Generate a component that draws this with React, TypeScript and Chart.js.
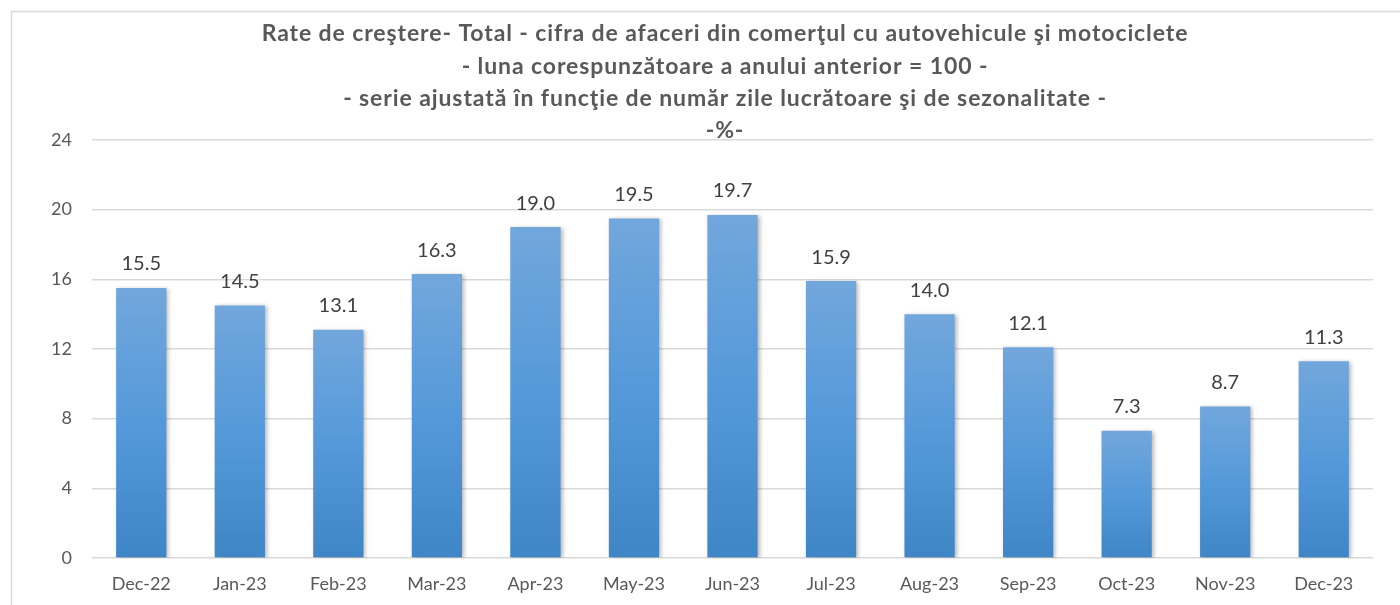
import React, { useEffect, useRef } from "react";
import { Chart, registerables } from "chart.js";

Chart.register(...registerables);

const categories = ["Dec-22", "Jan-23", "Feb-23", "Mar-23", "Apr-23", "May-23", "Jun-23", "Jul-23", "Aug-23", "Sep-23", "Oct-23", "Nov-23", "Dec-23"];
const values = [15.5, 14.5, 13.1, 16.3, 19.0, 19.5, 19.7, 15.9, 14.0, 12.1, 7.3, 8.7, 11.3];
const titleLines = [
  "Rate de creştere- Total - cifra de afaceri din comerţul cu autovehicule şi motociclete",
  "- luna corespunzătoare a anului anterior = 100 -",
  "- serie ajustată în funcţie de număr zile lucrătoare şi de sezonalitate -",
  "-%-",
];
const yMin = 0;
const yMax = 24;
const yStep = 4;

const FONT = "Lato, 'Open Sans', sans-serif";

export default function App() {
  const ref = useRef<HTMLCanvasElement | null>(null);
  useEffect(() => {
    if (!ref.current) return;
    const framePlugin = {
      id: "frame",
      beforeDraw(chart: any) {
        const ctx = chart.ctx;
        ctx.save();
        ctx.fillStyle = "#ffffff";
        ctx.fillRect(0, 0, chart.width, chart.height);
        ctx.strokeStyle = "#d9d9d9";
        ctx.lineWidth = 1.5;
        ctx.beginPath();
        ctx.moveTo(11.5, chart.height + 5);
        ctx.lineTo(11.5, 11.5);
        ctx.lineTo(chart.width + 5, 11.5);
        ctx.stroke();
        ctx.restore();
      },
    };
    const titlePlugin = {
      id: "titleText",
      afterDraw(chart: any) {
        const ctx = chart.ctx;
        ctx.save();
        ctx.fillStyle = "#595959";
        ctx.textAlign = "center";
        ctx.textBaseline = "middle";
        ctx.font = `bold 23px ${FONT}`;
        try { (ctx as any).letterSpacing = "0.9px"; } catch (e) {}
        const cx = 725;
        titleLines.forEach((t, i) => {
          ctx.fillText(t, cx, 34 + i * 32.3);
        });
        ctx.restore();
      },
    };
    const shadowPlugin = {
      id: "barShadow",
      beforeDatasetDraw(chart: any) {
        const ctx = chart.ctx;
        ctx.save();
        ctx.shadowColor = "rgba(0,0,0,0.28)";
        ctx.shadowBlur = 4;
        ctx.shadowOffsetX = 2;
        ctx.shadowOffsetY = 1;
      },
      afterDatasetDraw(chart: any) {
        chart.ctx.restore();
      },
    };
    const labelPlugin = {
      id: "dataLabels",
      afterDatasetsDraw(chart: any) {
        const ctx = chart.ctx;
        const meta = chart.getDatasetMeta(0);
        ctx.save();
        ctx.fillStyle = "#404040";
        ctx.textAlign = "center";
        ctx.textBaseline = "bottom";
        ctx.font = `20px ${FONT}`;
        meta.data.forEach((bar: any, i: number) => {
          ctx.fillText(values[i].toFixed(1), bar.x, bar.y - 14);
        });
        ctx.restore();
      },
    };
    const chart = new Chart(ref.current, {
      type: "bar",
      data: {
        labels: categories,
        datasets: [
          {
            data: values,
            backgroundColor: (c: any) => {
              const ch = c.chart;
              const ys = ch.scales && ch.scales.y;
              if (!ys || c.dataIndex === undefined) return "#5b9bd5";
              const top = ys.getPixelForValue(values[c.dataIndex]);
              const bottom = ys.getPixelForValue(0);
              if (!isFinite(top) || !isFinite(bottom) || top === bottom) return "#5b9bd5";
              const g = ch.ctx.createLinearGradient(0, top, 0, bottom);
              g.addColorStop(0, "#72a7dc");
              g.addColorStop(0.5, "#5599da");
              g.addColorStop(1, "#3f86c6");
              return g;
            },
            borderWidth: 0,
            barPercentage: 0.51,
            categoryPercentage: 1,
          },
        ],
      },
      options: {
        animation: false,
        responsive: false,
        maintainAspectRatio: false,
        layout: { padding: { left: 11, right: 27, top: 140, bottom: 7 } },
        plugins: { legend: { display: false }, title: { display: false }, tooltip: { enabled: false } },
        scales: {
          x: {
            grid: { display: false },
            border: { display: false },
            ticks: { color: "#595959", font: { family: FONT, size: 18 }, padding: 7, maxRotation: 0 },
            afterFit(s: any) { s.height = 40; },
          },
          y: {
            min: yMin,
            max: yMax,
            grid: { color: "#d9d9d9", lineWidth: 1.5, drawTicks: false },
            border: { display: false },
            ticks: { stepSize: yStep, color: "#595959", font: { family: FONT, size: 18 }, padding: 20 },
            afterFit(s: any) { s.width = 81; },
          },
        },
      },
      plugins: [framePlugin, shadowPlugin, labelPlugin, titlePlugin],
    });
    return () => chart.destroy();
  }, []);
  return (
    <div style={{ position: "absolute", left: 0, top: 0, width: 1400, height: 605, background: "#fff" }}>
      <canvas ref={ref} width={1400} height={605} style={{ display: "block", width: 1400, height: 605 }} />
    </div>
  );
}
